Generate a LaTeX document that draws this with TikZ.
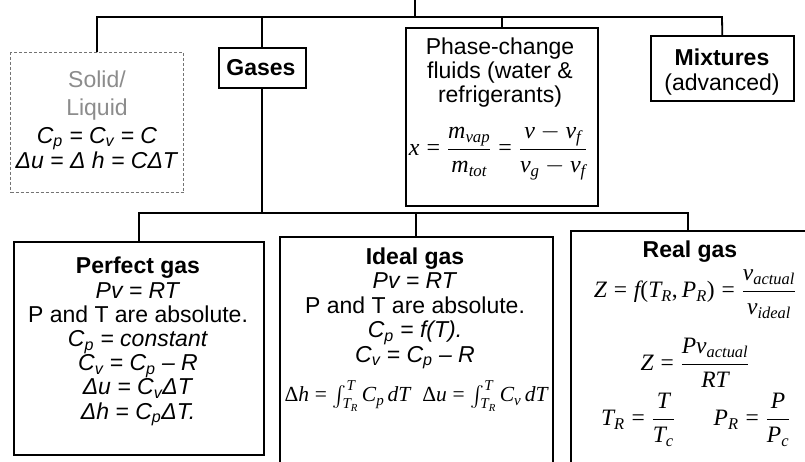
\documentclass[tikz,border=0pt]{standalone}
\usepackage{amsmath}
\usepackage[no-math]{fontspec}
\setmainfont{Liberation Sans}
\newfontfamily\tmsfam{Liberation Serif}[NFSSFamily=tms]
\DeclareSymbolFont{letters}{TU}{tms}{m}{it}
\DeclareSymbolFont{operators}{TU}{tms}{m}{n}
\mathcode`\,="602C
\renewcommand\Delta{\mathord{\text{\tmsfam\upshape Δ}}}
\newcommand\sbs[1]{\textsubscript{#1}}
\begin{document}
\begin{tikzpicture}[x=1pt,y=-1pt,
  box/.style={draw, line width=1.6pt, inner sep=0pt, anchor=north west},
  dbox/.style={draw=black!55, densely dashed, line width=1.1pt, inner sep=0pt, anchor=north west},
  txt/.style={inner sep=0pt, align=center, anchor=base, font=\fontsize{23}{24.2}\selectfont},
  mth/.style={inner sep=0pt, font=\fontsize{23.5}{26}\selectfont},
  conn/.style={line width=1.8pt}]
\clip (0,0) rectangle (805,461);
\fill[white] (0,0) rectangle (805,461);
% boxes
\node[dbox, minimum width=173pt, minimum height=140pt] (solid) at (10,52) {};
\node[box, minimum width=87pt, minimum height=40pt] (gases) at (218,47) {};
\node[box, minimum width=192pt, minimum height=178pt] (phase) at (405,27) {};
\node[box, minimum width=143pt, minimum height=65pt] (mix) at (650,35) {};
\node[box, minimum width=250pt, minimum height=213pt] (perfect) at (13,241) {};
\node[box, minimum width=273pt, minimum height=260pt] (ideal) at (279,236) {};
\node[box, minimum width=260pt, minimum height=260pt] (real) at (570,230) {};
% connectors
\coordinate (trunk) at (415,0);
\coordinate (busR) at (722,17);
\coordinate (bus2R) at (688,213);
\coordinate (realtop) at (688,230);
\draw[conn] (solid.north) |- (busR) -- (mix.north);
\draw[conn] (trunk) -- (trunk |- busR);
\draw[conn] (gases.north) -- (gases.north |- busR);
\draw[conn] (phase.north) -- (phase.north |- busR);
\draw[conn] (perfect.north) |- (bus2R) -- (realtop);
\draw[conn] (gases.south) -- (gases.south |- bus2R);
\draw[conn] (ideal.north) -- (ideal.north |- bus2R);
% texts
\node[txt, font=\fontsize{23}{25}\selectfont] (tsolid) at (97,168) {{\color{black!45}Solid/}\\[3pt]{\color{black!45}Liquid}\\[3pt]\textit{C\sbs{p} = C\sbs{v} = C}\\\textit{Δu = Δ h = CΔT}};
\node[txt, font=\fontsize{23}{25}\selectfont\bfseries] (tgases) at (261,75) {Gases};
\node[txt, font=\fontsize{23}{24}\selectfont] (tphase) at (500,102) {Phase-change\\fluids (water \&\\refrigerants)};
\node[mth, font=\fontsize{24}{28}\selectfont] (fphase) at (498,152) {$\displaystyle x=\frac{m_{vap}}{m_{tot}}=\frac{v-v_f}{v_g-v_f}$};
\node[txt, font=\fontsize{23}{25}\selectfont] (tmix) at (722,90) {\textbf{Mixtures}\\(advanced)};
\node[txt] (tperfect) at (138,419) {\textbf{Perfect gas}\\\textit{Pv = RT}\\P and T are absolute.\\\textit{C\sbs{p} = constant}\\\textit{C\sbs{v} = C\sbs{p} – R}\\\textit{Δu = C\sbs{v}ΔT}\\\textit{Δh = C\sbs{p}ΔT.}};
\node[txt, font=\fontsize{23}{24.5}\selectfont] (tideal) at (415,362) {\textbf{Ideal gas}\\\textit{Pv = RT}\\P and T are absolute.\\\textit{C\sbs{p} = f(T).}\\\textit{C\sbs{v} = C\sbs{p} – R}};
\node[mth, font=\fontsize{21.5}{24}\selectfont] (fideal) at (416,396) {$\Delta h=\int_{T_R}^{T} C_p\,dT\ \ \Delta u=\int_{T_R}^{T} C_v\,dT$};
\node[txt] (treal) at (690,257) {\textbf{Real gas}};
\node[mth] (freal1) at (695,294) {$\displaystyle Z=f(T_R,P_R)=\frac{v_{actual}}{v_{ideal}}$};
\node[mth] (freal2) at (695,363) {$\displaystyle Z=\frac{Pv_{actual}}{RT}$};
\node[mth] (freal3) at (638,420) {$\displaystyle T_R=\frac{T}{T_c}$};
\node[mth] (freal4) at (752,420) {$\displaystyle P_R=\frac{P}{P_c}$};
\end{tikzpicture}
\end{document}
